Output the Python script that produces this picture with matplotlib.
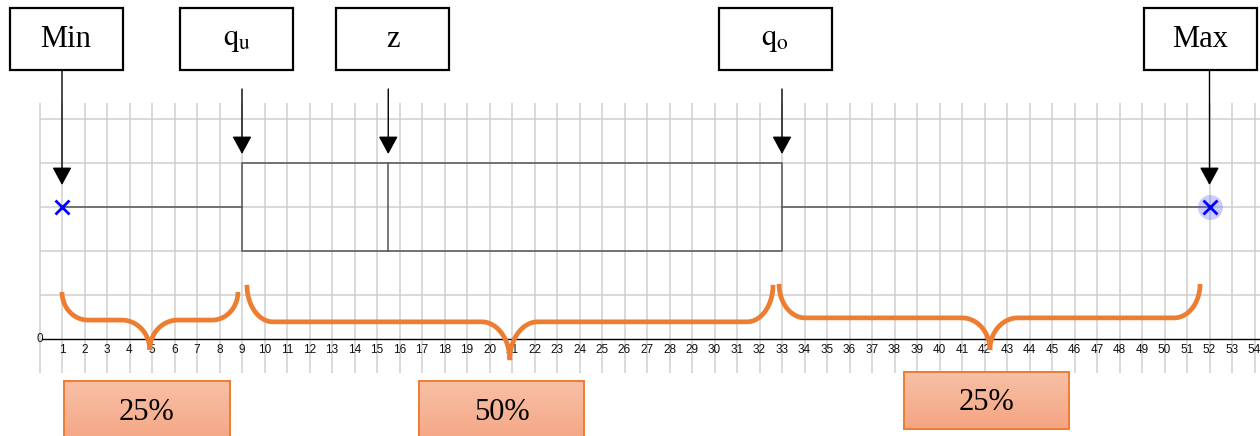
import matplotlib
matplotlib.use('Agg')
import matplotlib.pyplot as plt
import numpy as np
from matplotlib.patches import Rectangle

plt.rcParams['font.family'] = ['Liberation Sans', 'DejaVu Sans']
plt.rcParams['mathtext.fontset'] = 'stix'

# ---- data ----
stat_names = ['Min', 'q_u', 'z', 'q_o', 'Max']
stat_values = [1, 9, 15.5, 33, 52]
box_y = 3          # whisker level
box_half = 1       # box spans y=2..4
tick_values = list(range(1, 55))
pct_labels = ['25%', '50%', '25%']
# brace spans (left end, right end, tip)
brace_left = [1.0, 9.22, 32.87]
brace_right = [8.82, 32.6, 51.58]
brace_tip = [4.9, 20.9, 42.24]
brace_top = [1.07, 1.23, 1.25]
brace_mid = [0.43, 0.39, 0.48]
brace_bot = [-0.25, -0.48, -0.25]

# ---- figure: one axes filling the canvas ----
PXX, X0PX = 22.5, 39.5      # px per x unit, pixel of x=0
PXY, Y0PX = 44.0, 339.0     # px per y unit, pixel of y=0
W, H = 1260, 436
fig = plt.figure(figsize=(W / 100, H / 100), dpi=100)
ax = fig.add_axes([0, 0, 1, 1])
xlim = (-X0PX / PXX, (W - X0PX) / PXX)
ylim = ((Y0PX - H) / PXY, Y0PX / PXY)

def px(xp):
    return (xp - X0PX) / PXX

def py(yp):
    return (Y0PX - yp) / PXY

GRID = '#cfcfcf'
ax.vlines(np.arange(0, 55), py(373), py(103), color=GRID, lw=1.1, zorder=0)
ax.hlines(np.arange(1, 6), 0, xlim[1], color=GRID, lw=1.1, zorder=0)

for s in ['top', 'left', 'right']:
    ax.spines[s].set_visible(False)
ax.spines['bottom'].set_position(('data', 0))
ax.spines['bottom'].set_bounds(0.1, xlim[1])
ax.spines['bottom'].set_linewidth(1.0)
ax.set_xticks(tick_values)
ax.set_xticklabels([str(t) for t in tick_values])
ax.tick_params(axis='x', length=0, pad=3.5, labelsize=8.5, labelcolor='#111111')
ax.set_yticks([])
ax.text(0.15, 0, '0', ha='right', va='center', fontsize=8.5, color='#111111')

# ---- box plot ----
mn, qu, med, qo, mx = stat_values
BOXC = '#555555'
ax.plot([mn, qu], [box_y, box_y], color=BOXC, lw=1.1, zorder=3)
ax.plot([qo, mx], [box_y, box_y], color=BOXC, lw=1.1, zorder=3)
ax.add_patch(Rectangle((qu, box_y - box_half), qo - qu, 2 * box_half,
                       fill=False, edgecolor=BOXC, lw=1.1, zorder=3))
ax.plot([med, med], [box_y - box_half, box_y + box_half], color=BOXC, lw=1.1, zorder=3)
ax.plot(mx, box_y, 'o', ms=18, color=(0.35, 0.35, 1.0, 0.3), mec='none', zorder=4)
ax.plot([mn, mx], [box_y, box_y], 'x', ms=10, mew=2, color='blue', ls='none', zorder=5)

# ---- label boxes + arrows ----
label_txt = ['Min', r'$\mathrm{q_u}$', 'z', r'$\mathrm{q_o}$', 'Max']
label_cx = [1.18, 8.76, 15.7, 32.7, 51.6]
bw = 113 / PXX
by0, by1 = py(70), py(8.3)
for name, txt, cx, val in zip(stat_names, label_txt, label_cx, stat_values):
    ax.add_patch(Rectangle((cx - bw / 2, by0), bw, by1 - by0, facecolor='white',
                           edgecolor='black', lw=1.6, zorder=6))
    ax.text(cx, (by0 + by1) / 2, txt, ha='center', va='center', fontsize=22,
            family='Liberation Serif', zorder=7)
    outer = name in ('Min', 'Max')
    start = by0 if outer else py(89)
    tip = py(185) if outer else py(154)
    ax.annotate('', xy=(val, tip), xytext=(val, start),
                arrowprops=dict(arrowstyle='-|>,head_length=0.55,head_width=0.3',
                                color='black', lw=1.0, shrinkA=0, shrinkB=0,
                                mutation_scale=20), zorder=6)

# ---- braces ----
ORANGE = '#ED7D31'
rex, rtx = 26 / PXX, 28 / PXX
t = np.linspace(0, np.pi / 2, 40)
for x0, x1, xt, yt, yh, yb in zip(brace_left, brace_right, brace_tip,
                                  brace_top, brace_mid, brace_bot):
    ey, ty = yt - yh, yh - yb
    # left half: end arc, straight, tip arc
    a = np.pi + t
    lx = np.r_[x0 + rex + rex * np.cos(a), xt - rtx + rtx * np.cos(np.pi / 2 - t)]
    ly = np.r_[yt + ey * np.sin(a), yb + ty * np.sin(np.pi / 2 - t)]
    ax.plot(lx, ly, color=ORANGE, lw=3.4, solid_capstyle='butt', zorder=8)
    # right half
    rx_ = np.r_[xt + rtx + rtx * np.cos(np.pi - t), x1 - rex + rex * np.cos(1.5 * np.pi + t)]
    ry_ = np.r_[yb + ty * np.sin(np.pi - t), yt + ey * np.sin(1.5 * np.pi + t)]
    ax.plot(rx_, ry_, color=ORANGE, lw=3.4, solid_capstyle='butt', zorder=8)

# ---- percentage boxes with gradient ----
pct_x0 = [px(64), px(419), px(904)]
pct_x1 = [px(230), px(584), px(1069)]
pct_y0 = [py(381), py(381), py(372)]
pct_y1 = [py(445), py(445), py(429)]
pct_ty = [py(412), py(412), py(402)]
top_c = np.array([248, 192, 166]) / 255
bot_c = np.array([244, 165, 130]) / 255
grad = np.linspace(0, 1, 64)[:, None, None] * (bot_c - top_c) + top_c
for lab, x0, x1, y0, y1, ty in zip(pct_labels, pct_x0, pct_x1, pct_y0, pct_y1, pct_ty):
    ax.imshow(grad, extent=(x0, x1, y1, y0), aspect='auto', zorder=6, interpolation='bilinear')
    ax.add_patch(Rectangle((x0, y1), x1 - x0, y0 - y1, fill=False,
                           edgecolor=ORANGE, lw=1.4, zorder=7))
    ax.text((x0 + x1) / 2, ty, lab, ha='center', va='center', fontsize=22,
            family='Liberation Serif', zorder=8)

ax.set_xlim(*xlim)
ax.set_ylim(*ylim)
fig.savefig('out.png', dpi=100)
